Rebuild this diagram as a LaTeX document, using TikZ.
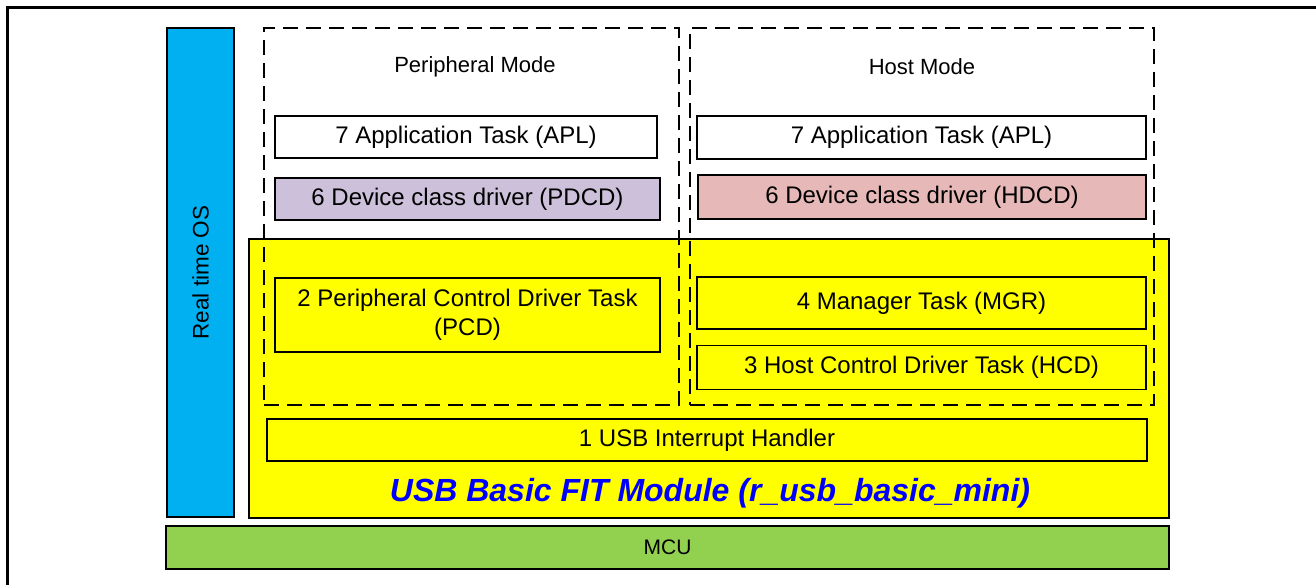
\documentclass[tikz,border=0pt]{standalone}
\usepackage{fontspec}
\setmainfont{Liberation Sans}
\definecolor{rtosblue}{HTML}{00B0F0}
\definecolor{fityellow}{HTML}{FFFF00}
\definecolor{mcugreen}{HTML}{92D050}
\definecolor{pdcdlav}{HTML}{CCC0DA}
\definecolor{hdcdpink}{HTML}{E6B8B7}
\definecolor{titleblue}{HTML}{0000FF}
\tikzset{
  blk/.style={draw=black, line width=1.5pt, rectangle, inner sep=0pt, align=center,
    font=\fontsize{24}{28.5}\selectfont},
  modebox/.style={draw=black, line width=1.6pt, dash pattern=on 15pt off 8pt, rectangle, inner sep=0pt},
  lbl/.style={font=\fontsize{22}{26}\selectfont, inner sep=0pt},
}
\begin{document}
\begin{tikzpicture}[x=1pt, y=-1pt]
\useasboundingbox (0,0) rectangle (1316,584);
% outer frame (cut at right and bottom)
\draw[line width=3pt] (7,600) -- (7,7) -- (1330,7);

% Real time OS
\node[blk, fill=rtosblue, rotate=90, minimum width=489pt, minimum height=67pt,
      font=\fontsize{22.5}{26}\selectfont] (rtos) at (200.5,272.5) {Real time OS};

% USB Basic FIT module (yellow)
\node[blk, fill=fityellow, line width=1.2pt, minimum width=920pt, minimum height=279pt] (fit) at (709,378.5) {};

% MCU
\node[blk, fill=mcugreen, minimum width=1003pt, minimum height=43pt,
      font=\fontsize{21}{25}\selectfont] (mcu) at (667.5,547.5) {MCU};

% mode boxes (dashed)
\node[modebox, minimum width=415pt, minimum height=377pt] (pmode) at (471.5,216.5) {};
\node[modebox, minimum width=464pt, minimum height=377pt] (hmode) at (922,216.5) {};
\node[lbl] (plabel) at (475,66.5) {Peripheral Mode};
\node[lbl] (hlabel) at (922,66.5) {Host Mode};

% peripheral side
\node[blk, fill=white, minimum width=382pt, minimum height=42pt] (papl) at (466,137) {7 Application Task (APL)};
\node[blk, fill=pdcdlav, minimum width=385pt, minimum height=42pt] (pdcd) at (467.5,199) {6 Device class driver (PDCD)};
\node[blk, minimum width=385pt, minimum height=74pt] (pcd) at (467.5,315) {2 Peripheral Control Driver Task\\(PCD)};

% host side
\node[blk, fill=white, minimum width=449pt, minimum height=43pt] (hapl) at (921.5,137.5) {7 Application Task (APL)};
\node[blk, fill=hdcdpink, minimum width=448pt, minimum height=44pt] (hdcd) at (922,197) {6 Device class driver (HDCD)};
\node[blk, minimum width=449pt, minimum height=52pt] (mgr) at (921.5,303) {4 Manager Task (MGR)};
\node[blk, minimum width=449pt, minimum height=44pt] (hcd) at (921.5,367.5) {3 Host Control Driver Task (HCD)};

% interrupt handler
\node[blk, minimum width=880pt, minimum height=42pt] (isr) at (707,440) {1 USB Interrupt Handler};

% title
\node[inner sep=0pt, text=titleblue, font=\fontsize{32}{37}\selectfont\bfseries\itshape] (title) at (710,493)
  {USB Basic FIT Module (r\_usb\_basic\_mini)};
\end{tikzpicture}
\end{document}
